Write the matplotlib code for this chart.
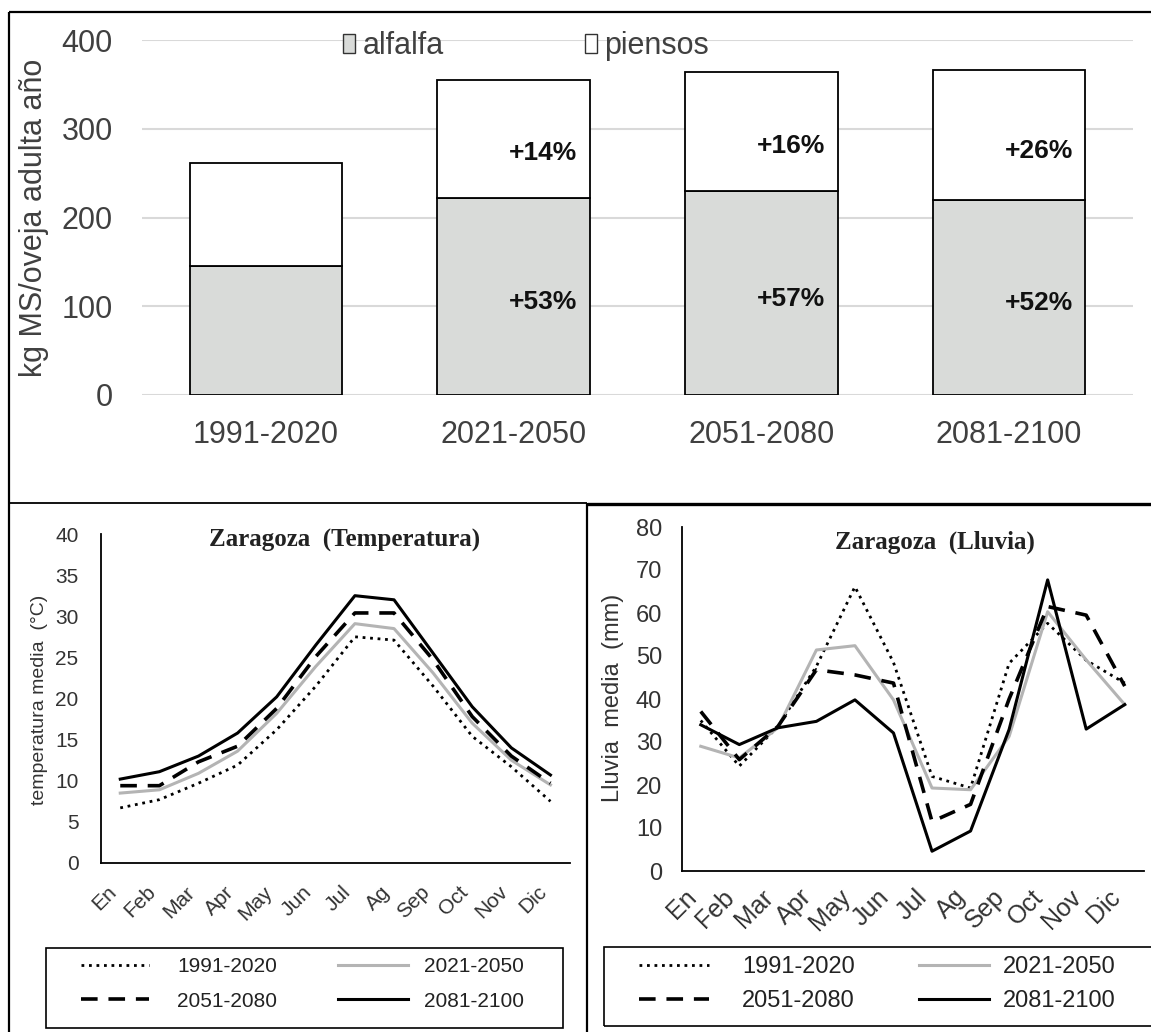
import numpy as np
import matplotlib
matplotlib.use('Agg')
import matplotlib.pyplot as plt
from matplotlib.lines import Line2D
from matplotlib.patches import Patch, Rectangle

# ---------------- data ----------------
periods = ['1991-2020', '2021-2050', '2051-2080', '2081-2100']
alfalfa = [145, 222, 230, 220]
piensos = [116, 133, 134, 146]
alfalfa_pct = ['', '+53%', '+57%', '+52%']
piensos_pct = ['', '+14%', '+16%', '+26%']

months = ['En', 'Feb', 'Mar', 'Apr', 'May', 'Jun', 'Jul', 'Ag', 'Sep', 'Oct', 'Nov', 'Dic']
temp_1991 = [6.7, 7.7, 9.7, 11.9, 16.2, 21.5, 27.5, 27.1, 21.5, 15.4, 11.7, 7.5]
temp_2021 = [8.5, 8.9, 10.9, 13.6, 18.2, 23.9, 29.1, 28.5, 23.1, 17.0, 12.5, 9.5]
temp_2051 = [9.4, 9.4, 12.3, 14.2, 18.8, 25.1, 30.4, 30.4, 24.7, 17.8, 13.0, 9.7]
temp_2081 = [10.2, 11.1, 13.0, 15.8, 20.2, 26.5, 32.5, 32.0, 25.5, 19.0, 14.0, 10.7]

rain_1991 = [35.0, 24.4, 33.6, 47.6, 66.1, 48.5, 22.0, 19.3, 48.3, 57.6, 49.0, 43.7]
rain_2021 = [29.0, 26.3, 33.3, 51.4, 52.4, 39.8, 19.3, 18.9, 31.3, 60.3, 49.1, 38.7]
rain_2051 = [37.1, 25.9, 33.6, 46.8, 45.6, 43.7, 11.5, 15.5, 40.0, 61.5, 59.5, 43.0]
rain_2081 = [34.0, 29.4, 33.3, 34.8, 39.8, 32.1, 4.6, 9.3, 32.9, 67.7, 33.0, 38.7]

# ---------------- figure ----------------
W, H = 1151, 1032
fig = plt.figure(figsize=(W / 100, H / 100), dpi=100)
fig.patch.set_facecolor('white')

def fx(px):
    return px / W

def fy(py):
    return 1 - py / H

SANS = ['Liberation Sans', 'DejaVu Sans']
SERIF = ['Liberation Serif', 'DejaVu Serif']
plt.rcParams['font.family'] = SANS

TXT = '#404040'
GREY_FILL = '#d9dbd9'

# ---------------- top bar chart ----------------
ax1 = fig.add_axes([fx(142), fy(395), fx(1133) - fx(142), fy(40) - fy(395)])
xb = np.arange(len(periods))
ax1.bar(xb, alfalfa, width=0.615, color=GREY_FILL, edgecolor='black', lw=1.3, zorder=2)
ax1.bar(xb, piensos, bottom=alfalfa, width=0.615, color='white', edgecolor='black', lw=1.3, zorder=2)
ax1.set_xlim(-0.5, 3.5)
ax1.set_ylim(0, 400)
ax1.set_yticks([0, 100, 200, 300, 400])
ax1.set_xticks(xb, periods)
ax1.grid(axis='y', color='#d9d9d9', lw=1.5, zorder=0)
ax1.set_axisbelow(True)
for s in ax1.spines.values():
    s.set_visible(False)
ax1.tick_params(length=0, labelsize=22, labelcolor=TXT)
ax1.tick_params(axis='x', pad=18)
ax1.tick_params(axis='y', pad=21)

for i in range(len(periods)):
    if alfalfa_pct[i]:
        ax1.text(i + 0.12, alfalfa[i] * 0.47, alfalfa_pct[i], ha='center', va='center',
                 fontsize=19, fontweight='bold', color='#111111')
    if piensos_pct[i]:
        ax1.text(i + 0.12, alfalfa[i] + piensos[i] * 0.38, piensos_pct[i], ha='center', va='center',
                 fontsize=19, fontweight='bold', color='#111111')

fig.text(fx(34), fy(218), 'kg MS/oveja adulta año', rotation=90, ha='center', va='center',
         fontsize=22, color=TXT)

leg_handles = [Patch(facecolor=GREY_FILL, edgecolor='#333333', lw=1.0),
               Patch(facecolor='white', edgecolor='#333333', lw=1.0)]
fig.legend(leg_handles, ['alfalfa', 'piensos'], loc='center left',
           bbox_to_anchor=(fx(343), fy(46)), ncol=2, frameon=False, fontsize=22,
           handlelength=0.4, handleheight=0.56, handletextpad=0.25, columnspacing=4.6,
           borderaxespad=0, borderpad=0, labelcolor=TXT)

# ---------------- line styles ----------------
styles = {
    '1991-2020': dict(color='black', lw=2.0, linestyle=(0, (1.0, 1.7)), dash_capstyle='butt'),
    '2021-2050': dict(color='#b4b4b4', lw=2.2, linestyle='-'),
    '2051-2080': dict(color='black', lw=2.6, linestyle=(0, (4.6, 3.0))),
    '2081-2100': dict(color='black', lw=2.2, linestyle='-'),
}
xm = np.arange(len(months))

def line_panel(ax, series, ylim, yticks, ticksize, monthsize, ypad, xpad):
    for name, vals in series:
        ax.plot(xm, vals, label=name, **styles[name])
    ax.set_xlim(-0.5, 11.5)
    ax.set_ylim(*ylim)
    ax.set_yticks(yticks)
    ax.set_xticks(xm)
    ax.set_xticklabels(months, rotation=45, ha='right', va='top', fontsize=monthsize,
                       color='#333333')
    for lab in ax.get_yticklabels():
        lab.set_fontsize(ticksize)
        lab.set_color('#333333')
    ax.spines['top'].set_visible(False)
    ax.spines['right'].set_visible(False)
    for s in ('left', 'bottom'):
        ax.spines[s].set_linewidth(1.3)
        ax.spines[s].set_color('black')
    ax.tick_params(length=0)
    ax.tick_params(axis='y', pad=ypad)
    ax.tick_params(axis='x', pad=xpad)

# ---------------- temperature ----------------
ax2 = fig.add_axes([fx(100.7), fy(863), fx(570) - fx(100.7), fy(534) - fy(863)])
temp_series = [('1991-2020', temp_1991), ('2021-2050', temp_2021),
               ('2051-2080', temp_2051), ('2081-2100', temp_2081)]
line_panel(ax2, temp_series, (0, 40), list(range(0, 45, 5)), 15, 15, 16, 14)
fig.text(fx(345), fy(540), 'Zaragoza  (Temperatura)', ha='center', va='center',
         family=SERIF, fontweight='bold', fontsize=18, color='#222222')
fig.text(fx(40), fy(700), 'temperatura media  (°C)', rotation=90, ha='center', va='center',
         fontsize=14, color='#333333')

# ---------------- rain ----------------
ax3 = fig.add_axes([fx(681.5), fy(871), fx(1144) - fx(681.5), fy(527) - fy(871)])
rain_series = [('1991-2020', rain_1991), ('2021-2050', rain_2021),
               ('2051-2080', rain_2051), ('2081-2100', rain_2081)]
line_panel(ax3, rain_series, (0, 80), list(range(0, 90, 10)), 17, 18, 14, 10)
fig.text(fx(935), fy(542), 'Zaragoza  (Lluvia)', ha='center', va='center',
         family=SERIF, fontweight='bold', fontsize=18, color='#222222')
fig.text(fx(613), fy(698), 'Lluvia  media  (mm)', rotation=90, ha='center', va='center',
         fontsize=17, color='#333333')

# ---------------- legends ----------------
def handle(name):
    return Line2D([], [], **styles[name])

def two_col_legend(col1, col2, x1, x2, ytop, fs, hl1, tp1, hl2, tp2, lsp):
    for names, x, hl, tp in ((col1, x1, hl1, tp1), (col2, x2, hl2, tp2)):
        fig.legend([handle(n) for n in names], names, loc='upper left',
                   bbox_to_anchor=(fx(x), fy(ytop)), frameon=False, fontsize=fs,
                   handlelength=hl, handletextpad=tp, labelspacing=lsp,
                   borderaxespad=0, borderpad=0, labelcolor='#222222')

# temperature legend
fig.add_artist(Rectangle((fx(46), fy(1028)), fx(563) - fx(46), fy(948) - fy(1028),
                         transform=fig.transFigure, facecolor='none', edgecolor='black', lw=1.2))
two_col_legend(['1991-2020', '2051-2080'], ['2021-2050', '2081-2100'],
               81, 338, 957, 15, 3.27, 1.35, 3.37, 0.75, 0.75)

# rain legend
fig.add_artist(Rectangle((fx(604), fy(1026)), fx(1170) - fx(604), fy(947) - fy(1026),
                         transform=fig.transFigure, facecolor='none', edgecolor='black', lw=1.2))
two_col_legend(['1991-2020', '2051-2080'], ['2021-2050', '2081-2100'],
               639, 919, 956, 17, 2.97, 1.4, 2.97, 0.6, 0.5)

# ---------------- panel borders ----------------
def fline(x0, y0, x1, y1, lw):
    fig.add_artist(Line2D([fx(x0), fx(x1)], [fy(y0), fy(y1)], transform=fig.transFigure,
                          color='black', lw=lw, solid_capstyle='butt'))

fline(9, 12, 1151, 12, 1.6)
fline(9, 12, 9, 1032, 1.6)
fline(9, 503, 587, 503, 1.3)
fline(587, 504, 1151, 504, 2.4)
fline(587, 503, 587, 1032, 1.6)

fig.savefig('out.png', dpi=100, facecolor='white')
